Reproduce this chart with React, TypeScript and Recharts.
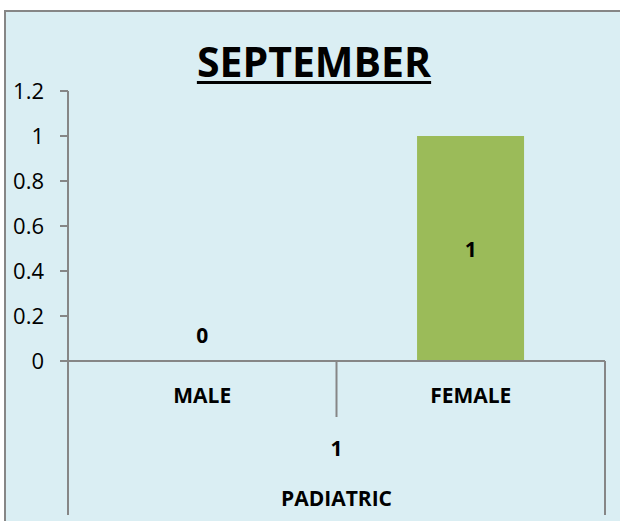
import React from "react";
import { ComposedChart, Bar, Line, XAxis, YAxis, LabelList } from "recharts";

const categories = ["MALE", "FEMALE"];
const counts = [0, 1];
const subGroups = ["1", "1"];
const groups = ["PADIATRIC", "PADIATRIC"];
const yTicks = [0, 0.2, 0.4, 0.6, 0.8, 1, 1.2];
const title = "SEPTEMBER";

const data = categories.map((c, i) => ({
  category: c,
  value: counts[i],
  sub: subGroups[i],
  group: groups[i],
}));

const FONT = "'Open Sans', 'DejaVu Sans', sans-serif";
const AXIS = "#868686";
const W = 620;
const H = 521;
const MARGIN = { top: 91, right: 15, left: 0, bottom: 6 };
const Y_W = 68;
const BAND = (W - MARGIN.left - MARGIN.right - Y_W) / categories.length;
const CAT_H = 56;
const SUB_H = 50;
const GRP_H = 48;
const AXIS_TOTAL = CAT_H + SUB_H + GRP_H;
const PLOT_BOTTOM = H - MARGIN.bottom - AXIS_TOTAL;

function CategoryTick(props: any) {
  const { x, y, payload, index } = props;
  const left = x - BAND / 2;
  const right = x + BAND / 2;
  const last = index === categories.length - 1;
  return (
    <g>
      <text
        x={x}
        y={y + 42}
        textAnchor="middle"
        fontFamily={FONT}
        fontWeight="bold"
        fontSize={21}
        fill="#000"
      >
        {payload.value}
      </text>
      <line
        x1={left}
        x2={left}
        y1={y}
        y2={index === 0 ? y + AXIS_TOTAL : y + CAT_H}
        stroke={AXIS}
        strokeWidth={2}
      />
      {last && (
        <line x1={right} x2={right} y1={y} y2={y + AXIS_TOTAL} stroke={AXIS} strokeWidth={2} />
      )}
    </g>
  );
}

function LevelTick(props: any) {
  const { x, y, payload } = props;
  return (
    <text
      x={x}
      y={y + 39}
      textAnchor="middle"
      fontFamily={FONT}
      fontWeight="bold"
      fontSize={21}
      fill="#000"
    >
      {payload.value}
    </text>
  );
}

// label sits in the middle of the bar, or just above the axis when the bar is empty
function ValueLabel(props: any) {
  const { x, y, value } = props;
  const h = PLOT_BOTTOM - y;
  const ty = h > 30 ? y + h / 2 + 8 : y - 18;
  return (
    <text
      x={x}
      y={ty}
      textAnchor="middle"
      fontFamily={FONT}
      fontWeight="bold"
      fontSize={21}
      fill="#000"
    >
      {value}
    </text>
  );
}

export default function App() {
  return (
    <div
      style={{
        position: "absolute",
        left: 0,
        top: 0,
        width: W,
        height: H,
        background: "#fff",
        overflow: "hidden",
      }}
    >
      <div
        style={{
          position: "absolute",
          left: 4,
          top: 10,
          width: W - 4,
          height: H - 10,
          boxSizing: "border-box",
          borderLeft: `2px solid ${AXIS}`,
          borderTop: `2px solid ${AXIS}`,
          background: "#DAEEF3",
        }}
      />
      <div
        style={{
          position: "absolute",
          left: 0,
          top: 41,
          width: 628,
          textAlign: "center",
          fontFamily: FONT,
          fontWeight: "bold",
          fontSize: 41,
          lineHeight: "41px",
          color: "#000",
          textDecoration: "underline",
          textDecorationThickness: "3px",
          textUnderlineOffset: "4px",
        }}
      >
        {title}
      </div>
      <div style={{ position: "absolute", left: 0, top: 0 }}>
        <ComposedChart width={W} height={H} data={data} margin={MARGIN} barCategoryGap="30%">
          <YAxis
            width={Y_W}
            domain={[0, 1.2]}
            ticks={yTicks}
            interval={0}
            tickSize={8}
            tickMargin={16}
            axisLine={{ stroke: AXIS, strokeWidth: 2 }}
            tickLine={{ stroke: AXIS, strokeWidth: 2 }}
            tick={{ fontFamily: FONT, fontSize: 22, fill: "#000" }}
          />
          <XAxis
            xAxisId="level1"
            dataKey="category"
            height={CAT_H}
            tickSize={0}
            tickMargin={0}
            tickLine={false}
            axisLine={{ stroke: AXIS, strokeWidth: 2 }}
            tick={<CategoryTick />}
            interval={0}
          />
          <XAxis
            xAxisId="level2"
            dataKey="sub"
            height={SUB_H}
            allowDuplicatedCategory={false}
            tickSize={0}
            tickMargin={0}
            tickLine={false}
            axisLine={false}
            tick={<LevelTick />}
            interval={0}
          />
          <XAxis
            xAxisId="level3"
            dataKey="group"
            height={GRP_H}
            allowDuplicatedCategory={false}
            tickSize={0}
            tickMargin={0}
            tickLine={false}
            axisLine={false}
            tick={<LevelTick />}
            interval={0}
          />
          <Bar xAxisId="level1" dataKey="value" fill="#9BBB59" isAnimationActive={false} />
          <Line
            xAxisId="level1"
            dataKey="value"
            stroke="none"
            dot={false}
            activeDot={false}
            isAnimationActive={false}
          >
            <LabelList dataKey="value" content={<ValueLabel />} />
          </Line>
        </ComposedChart>
      </div>
    </div>
  );
}
